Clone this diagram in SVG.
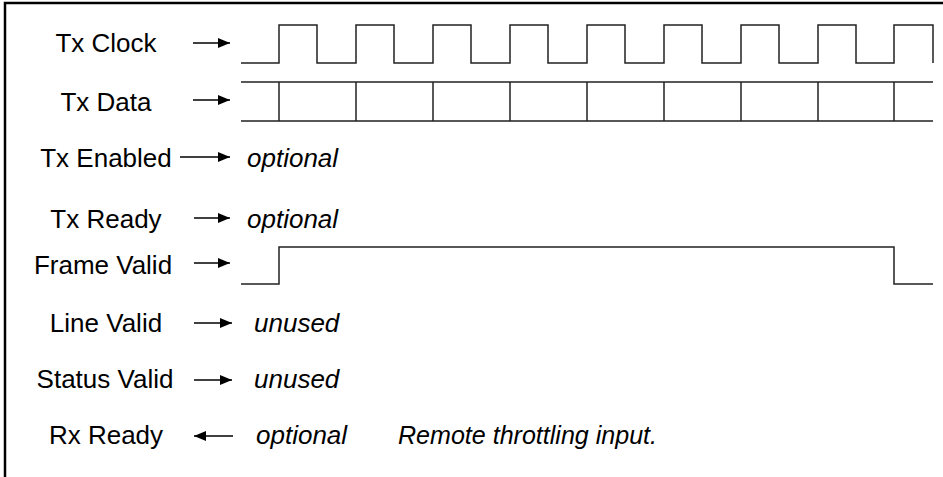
<svg xmlns="http://www.w3.org/2000/svg" width="943" height="477" viewBox="0 0 943 477">
  <style>
    .frame { fill: none; stroke: #000; stroke-width: 2.5; }
    .wave { fill: none; stroke: #222; stroke-width: 1.5; stroke-linejoin: miter; }
    .arrow { fill: none; stroke: #000; stroke-width: 1.3; }
    .label { font-family: "Liberation Sans", Arial, sans-serif; font-size: 26px; fill: #000; text-anchor: middle; }
    .note { font-family: "Liberation Sans", Arial, sans-serif; font-size: 26px; font-style: italic; fill: #000; }
  </style>
  <defs>
    <marker id="head" viewBox="0 0 12 10" refX="12" refY="5" markerWidth="12" markerHeight="10" markerUnits="userSpaceOnUse" orient="auto">
      <path d="M0,0 L12,5 L0,10 Z" fill="#000"/>
    </marker>
  </defs>

  <rect width="943" height="477" fill="#fff"/>

  <!-- outer frame: top and left edges only -->
  <path class="frame" d="M5,477 V3 H943"/>

  <!-- signal names -->
  <g id="tx-clock">
    <text class="label" x="106" y="52">Tx Clock</text>
    <path class="wave" d="M241,63 H279 V25 H317 V63 H356 V25 H394 V63 H433 V25 H471 V63 H510 V25 H548 V63 H587 V25 H625 V63 H664 V25 H702 V63 H741 V25 H779 V63 H818 V25 H856 V63 H894 V25 H933 V63"/>
  </g>

  <g id="tx-data">
    <text class="label" x="106" y="111">Tx Data</text>
    <path class="wave" d="M241,82 H933 M241,121 H933 M279,82 V121 M356,82 V121 M433,82 V121 M510,82 V121 M587,82 V121 M664,82 V121 M741,82 V121 M818,82 V121 M894,82 V121"/>
  </g>

  <g id="tx-enabled">
    <text class="label" x="106" y="167">Tx Enabled</text>
    <text class="note" x="247" y="167">optional</text>
  </g>

  <g id="tx-ready">
    <text class="label" x="106" y="228">Tx Ready</text>
    <text class="note" x="247" y="228">optional</text>
  </g>

  <g id="frame-valid">
    <text class="label" x="103" y="274">Frame Valid</text>
    <path class="wave" d="M241,284 H279 V247 H894 V284 H933"/>
  </g>

  <g id="line-valid">
    <text class="label" x="106" y="332">Line Valid</text>
    <text class="note" x="254" y="332">unused</text>
  </g>

  <g id="status-valid">
    <text class="label" x="105" y="388">Status Valid</text>
    <text class="note" x="254" y="388">unused</text>
  </g>

  <g id="rx-ready">
    <text class="label" x="106" y="444">Rx Ready</text>
    <text class="note" x="256" y="444">optional</text>
    <text class="note" x="398" y="444" textLength="259" lengthAdjust="spacingAndGlyphs">Remote throttling input.</text>
  </g>

  <!-- direction arrows -->
  <g id="connectors">
    <line class="arrow" x1="193" y1="43" x2="230" y2="43" marker-end="url(#head)"/>
    <line class="arrow" x1="193" y1="100" x2="230" y2="100" marker-end="url(#head)"/>
    <line class="arrow" x1="180" y1="157" x2="230" y2="157" marker-end="url(#head)"/>
    <line class="arrow" x1="194" y1="218" x2="230" y2="218" marker-end="url(#head)"/>
    <line class="arrow" x1="194" y1="263" x2="230" y2="263" marker-end="url(#head)"/>
    <line class="arrow" x1="194" y1="323" x2="232" y2="323" marker-end="url(#head)"/>
    <line class="arrow" x1="194" y1="380" x2="232" y2="380" marker-end="url(#head)"/>
    <line class="arrow" x1="233" y1="436" x2="194" y2="436" marker-end="url(#head)"/>
  </g>
</svg>
